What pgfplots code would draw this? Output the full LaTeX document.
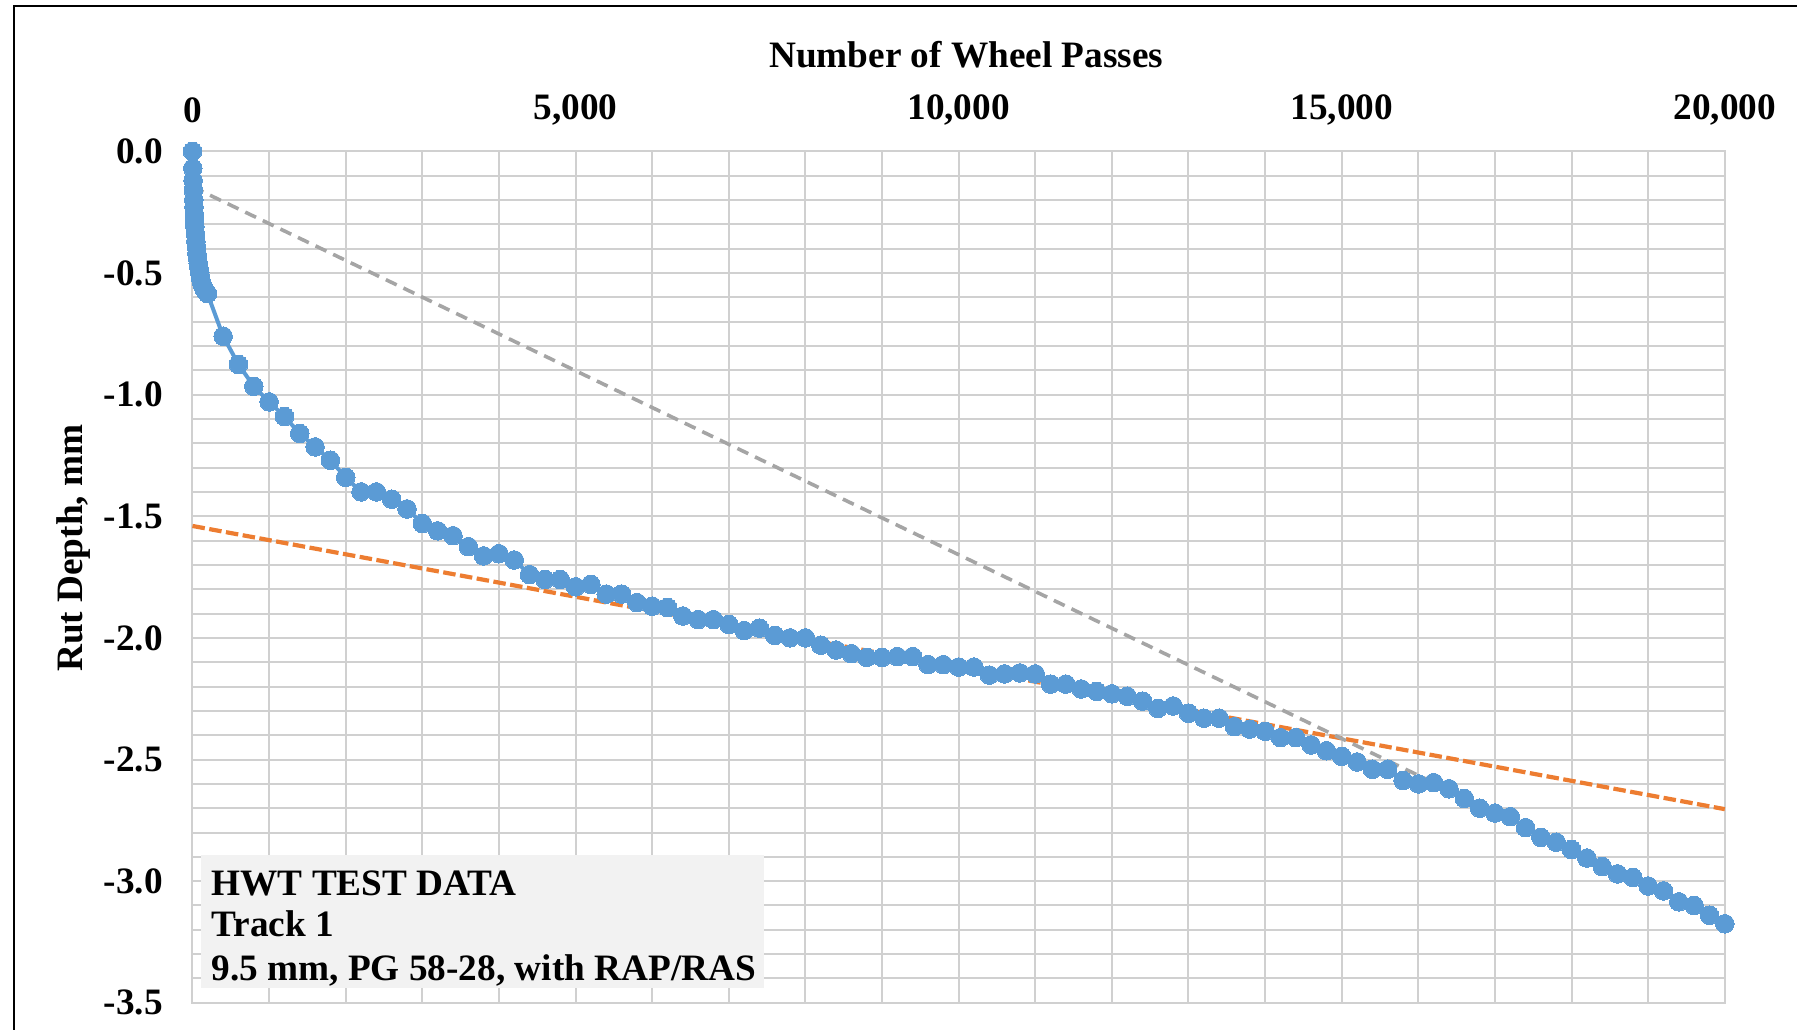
\documentclass[border=0pt]{standalone}
\usepackage{fontspec}
\setmainfont{Liberation Serif}
\usepackage{pgfplots}
\usepackage{pgfplotstable}
\pgfplotsset{compat=1.18}

\definecolor{excelblue}{HTML}{5B9BD5}
\definecolor{excelorange}{HTML}{ED7D31}
\definecolor{excelgray}{HTML}{A5A5A5}
\definecolor{gridgray}{HTML}{D0D0D0}
\definecolor{notefill}{HTML}{F2F2F2}

% Hamburg wheel-tracking rut depth, track 1
\pgfplotstableread{
passes rut
0 0
4 -0.07
8 -0.12
12 -0.16
16 -0.20
20 -0.23
24 -0.26
28 -0.29
32 -0.31
38 -0.34
44 -0.37
50 -0.39
58 -0.42
66 -0.44
74 -0.46
84 -0.48
94 -0.50
106 -0.52
120 -0.54
136 -0.555
152 -0.565
170 -0.575
195 -0.585
400 -0.76
600 -0.876
800 -0.966
1000 -1.03
1200 -1.09
1400 -1.16
1600 -1.215
1800 -1.27
2000 -1.34
2200 -1.40
2400 -1.40
2600 -1.43
2800 -1.47
3000 -1.53
3200 -1.56
3400 -1.58
3600 -1.625
3800 -1.663
4000 -1.654
4200 -1.68
4400 -1.74
4600 -1.76
4800 -1.76
5000 -1.79
5200 -1.78
5400 -1.82
5600 -1.82
5800 -1.855
6000 -1.87
6200 -1.875
6400 -1.91
6600 -1.925
6800 -1.925
7000 -1.945
7200 -1.97
7400 -1.96
7600 -1.99
7800 -2.0
8000 -2.0
8200 -2.03
8400 -2.05
8600 -2.065
8800 -2.08
9000 -2.08
9200 -2.077
9400 -2.077
9600 -2.11
9800 -2.11
10000 -2.12
10200 -2.12
10400 -2.153
10600 -2.148
10800 -2.144
11000 -2.148
11200 -2.19
11400 -2.19
11600 -2.21
11800 -2.22
12000 -2.23
12200 -2.24
12400 -2.26
12600 -2.29
12800 -2.28
13000 -2.31
13200 -2.33
13400 -2.33
13600 -2.365
13800 -2.375
14000 -2.384
14200 -2.41
14400 -2.41
14600 -2.44
14800 -2.464
15000 -2.487
15200 -2.51
15400 -2.54
15600 -2.54
15800 -2.586
16000 -2.6
16200 -2.595
16400 -2.62
16600 -2.66
16800 -2.70
17000 -2.72
17200 -2.735
17400 -2.78
17600 -2.82
17800 -2.84
18000 -2.87
18200 -2.905
18400 -2.94
18600 -2.97
18800 -2.985
19000 -3.02
19200 -3.04
19400 -3.085
19600 -3.10
19800 -3.14
20000 -3.175
}\hwtdata

\begin{document}
\begin{tikzpicture}[font=\fontsize{10.6pt}{13pt}\selectfont\bfseries]
\useasboundingbox (0,0) rectangle (179.7mm,102.9mm);
% chart frame (left and top edges)
\draw[line width=0.2mm] (1.375mm,-3mm) -- (1.375mm,102.33mm) -- (185mm,102.33mm);
\begin{axis}[
  at={(19.25mm,2.62mm)}, anchor=south west,
  width=153.23mm, height=85.15mm, scale only axis,
  xmin=0, xmax=20000, ymin=-3.5, ymax=0,
  xtick={0,5000,10000,15000,20000},
  ytick={-3.5,-3.0,-2.5,-2.0,-1.5,-1.0,-0.5,0},
  minor x tick num=4, minor y tick num=4,
  scaled ticks=false,
  grid=both,
  major grid style={draw=gridgray, line width=0.2mm},
  minor grid style={draw=gridgray, line width=0.2mm},
  axis line style={draw=gridgray, line width=0.2mm},
  major tick length=0pt, minor tick length=0pt,
  xticklabel pos=top,
  xticklabel style={anchor=center, yshift=4.13mm,
    /pgf/number format/fixed, /pgf/number format/precision=0,
    /pgf/number format/1000 sep={,}},
  yticklabel style={anchor=east, inner sep=0pt, xshift=-2.9mm,
    /pgf/number format/fixed, /pgf/number format/fixed zerofill,
    /pgf/number format/precision=1},
  /pgf/number format/assume math mode=true,
  xlabel={Number of Wheel Passes},
  ylabel={Rut Depth, mm},
  every axis x label/.style={at={(axis description cs:0.505,1.113)}, anchor=center},
  every axis y label/.style={at={(axis description cs:-0.0778,0.534)}, anchor=center, rotate=90},
  clip=false,
]
\addplot[color=excelblue, line width=0.4mm, mark=*, mark size=0.93mm,
  mark options={fill=excelblue, draw=excelblue, line width=0pt}] table[x=passes, y=rut] {\hwtdata};
% linear trend of the secondary (steady) phase
\addplot[color=excelorange, line width=0.42mm, dash pattern=on 1.25mm off 0.45mm]
  coordinates {(0,-1.54) (20000,-2.704)};
% overall linear trend
\addplot[color=excelgray, line width=0.36mm, dash pattern=on 1.2mm off 0.75mm]
  coordinates {(0,-0.146) (20000,-3.17)};
\end{axis}
% note box
\fill[notefill] (20.06mm,4.1mm) rectangle (76.44mm,17.4mm);
\node[anchor=base west, inner sep=0pt] at (21.09mm,13.4mm) {HWT TEST DATA};
\node[anchor=base west, inner sep=0pt] at (21.09mm,9.25mm) {Track 1};
\node[anchor=base west, inner sep=0pt] at (21.09mm,4.9mm) {9.5 mm, PG 58-28, with RAP/RAS};
\end{tikzpicture}
\end{document}
